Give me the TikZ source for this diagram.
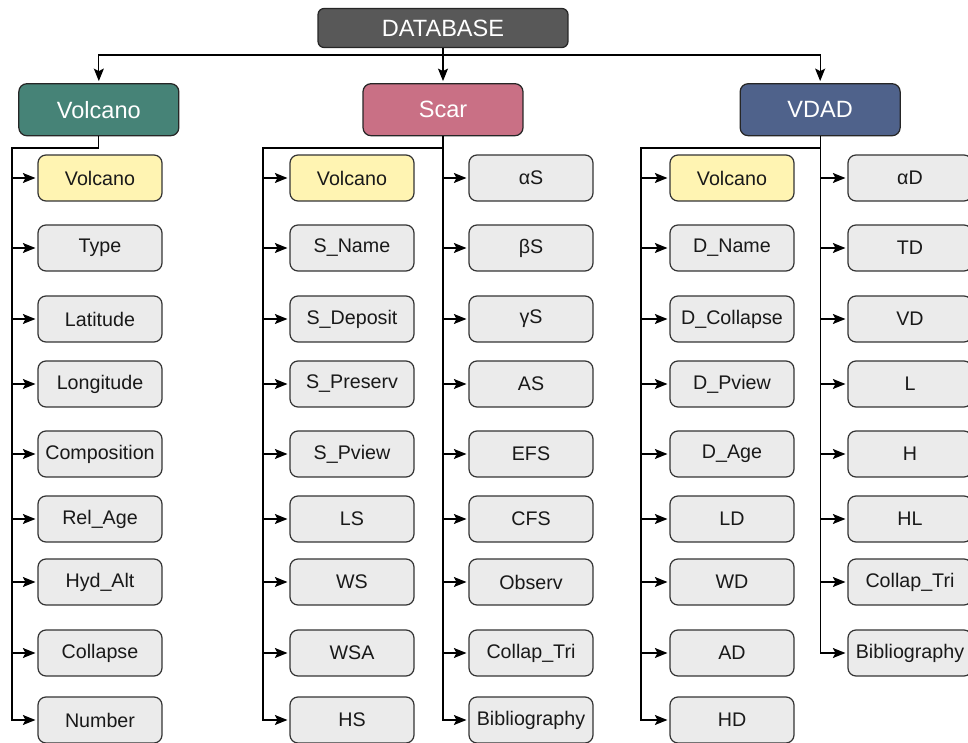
\documentclass[tikz,border=0pt]{standalone}
\usepackage{fontspec}
\setmainfont{Liberation Sans}
\usepackage{tikz}
\usetikzlibrary{arrows.meta, positioning, shapes}
\definecolor{dbgray}{RGB}{88,88,88}
\definecolor{volcteal}{RGB}{70,131,119}
\definecolor{scarpink}{RGB}{201,112,133}
\definecolor{vdadblue}{RGB}{79,98,139}
\definecolor{keyyellow}{RGB}{255,244,178}
\definecolor{fieldgray}{RGB}{235,235,235}
\tikzstyle{database} = [rectangle, rounded corners=0.12cm, minimum width=5cm, minimum height=0.78cm, text centered, draw=black!85, fill=dbgray, text=white, font=\fontsize{13.4}{15}\selectfont]
\tikzstyle{table} = [rectangle, rounded corners=0.16cm, minimum width=3.2cm, minimum height=1.04cm, text centered, draw=black!85, text=white, font=\fontsize{13.4}{15}\selectfont]
\tikzstyle{field} = [rectangle, rounded corners=0.16cm, minimum width=2.48cm, minimum height=0.92cm, text centered, draw=black!80, fill=fieldgray, text=black!90, font=\fontsize{11.2}{13}\selectfont]
\tikzstyle{keyfield} = [field, fill=keyyellow]
\tikzstyle{arrow} = [line width=0.7pt, ->, >={Stealth[length=0.25cm, width=0.2cm, inset=0.05cm]}, shorten >=0.04cm]

\begin{document}
\begin{tikzpicture}[x=0.02cm, y=-0.02cm, line width=0.7pt]
		\useasboundingbox (0,0) rectangle (968,743);
		
		% Nodes
		\node (db) [database] at (443,28) {DATABASE};
		\node (scar) [table, fill=scarpink, below=0.7cm of db] {Scar};
		\node (volcano) [table, fill=volcteal, left=3.66cm of scar] {Volcano};
		\node (vdad) [table, fill=vdadblue, right=4.32cm of scar] {VDAD};
		
		% Volcano fields
		\node (vc1) [keyfield] at (100,178) {Volcano};
		\node (vc2) [field] at (100,248) {Type};
		\node (vc3) [field] at (100,319) {Latitude};
		\node (vc4) [field] at (100,384) {Longitude};
		\node (vc5) [field] at (100,454) {Composition};
		\node (vc6) [field] at (100,519) {Rel\_Age};
		\node (vc7) [field] at (100,582) {Hyd\_Alt};
		\node (vc8) [field] at (100,653) {Collapse};
		\node (vc9) [field] at (100,720) {Number};
		
		% Scar fields
		\node (sl1) [keyfield] at (352,178) {Volcano};
		\node (sl2) [field] at (352,248) {S\_Name};
		\node (sl3) [field] at (352,319) {S\_Deposit};
		\node (sl4) [field] at (352,384) {S\_Preserv};
		\node (sl5) [field] at (352,454) {S\_Pview};
		\node (sl6) [field] at (352,519) {LS};
		\node (sl7) [field] at (352,582) {WS};
		\node (sl8) [field] at (352,653) {WSA};
		\node (sl9) [field] at (352,720) {HS};
		\node (sr1) [field] at (531,178) {αS};
		\node (sr2) [field] at (531,248) {βS};
		\node (sr3) [field] at (531,319) {γS};
		\node (sr4) [field] at (531,384) {AS};
		\node (sr5) [field] at (531,454) {EFS};
		\node (sr6) [field] at (531,519) {CFS};
		\node (sr7) [field] at (531,582) {Observ};
		\node (sr8) [field] at (531,653) {Collap\_Tri};
		\node (sr9) [field] at (531,720) {Bibliography};
		
		% VDAD fields
		\node (dl1) [keyfield] at (732,178) {Volcano};
		\node (dl2) [field] at (732,248) {D\_Name};
		\node (dl3) [field] at (732,319) {D\_Collapse};
		\node (dl4) [field] at (732,384) {D\_Pview};
		\node (dl5) [field] at (732,454) {D\_Age};
		\node (dl6) [field] at (732,519) {LD};
		\node (dl7) [field] at (732,582) {WD};
		\node (dl8) [field] at (732,653) {AD};
		\node (dl9) [field] at (732,720) {HD};
		\node (dr1) [field] at (910,178) {αD};
		\node (dr2) [field] at (910,248) {TD};
		\node (dr3) [field] at (910,319) {VD};
		\node (dr4) [field] at (910,384) {L};
		\node (dr5) [field] at (910,454) {H};
		\node (dr6) [field] at (910,519) {HL};
		\node (dr7) [field] at (910,582) {Collap\_Tri};
		\node (dr8) [field] at (910,653) {Bibliography};
		
		% Spine corners
		\coordinate (vcspine) at (12,148);
		\coordinate (slspine) at (263,148);
		\coordinate (dlspine) at (641,148);
		
		% Arrows
		\draw [arrow] (db.south) -- ++(0,7) -| (volcano.north);
		\draw [arrow] (db.south) -- (scar.north);
		\draw [arrow] (db.south) -- ++(0,7) -| (vdad.north);
		
		\draw [arrow] (volcano.south) |- (vcspine) |- (vc9);
		\draw [arrow] (vcspine |- vc1) -- (vc1);
		\draw [arrow] (vcspine |- vc2) -- (vc2);
		\draw [arrow] (vcspine |- vc3) -- (vc3);
		\draw [arrow] (vcspine |- vc4) -- (vc4);
		\draw [arrow] (vcspine |- vc5) -- (vc5);
		\draw [arrow] (vcspine |- vc6) -- (vc6);
		\draw [arrow] (vcspine |- vc7) -- (vc7);
		\draw [arrow] (vcspine |- vc8) -- (vc8);
		
		\draw [arrow] (scar.south) |- (slspine) |- (sl9);
		\draw [arrow] (slspine |- sl1) -- (sl1);
		\draw [arrow] (slspine |- sl2) -- (sl2);
		\draw [arrow] (slspine |- sl3) -- (sl3);
		\draw [arrow] (slspine |- sl4) -- (sl4);
		\draw [arrow] (slspine |- sl5) -- (sl5);
		\draw [arrow] (slspine |- sl6) -- (sl6);
		\draw [arrow] (slspine |- sl7) -- (sl7);
		\draw [arrow] (slspine |- sl8) -- (sl8);
		
		\draw [arrow] (scar.south) |- (sr9);
		\draw [arrow] (scar.south |- sr1) -- (sr1);
		\draw [arrow] (scar.south |- sr2) -- (sr2);
		\draw [arrow] (scar.south |- sr3) -- (sr3);
		\draw [arrow] (scar.south |- sr4) -- (sr4);
		\draw [arrow] (scar.south |- sr5) -- (sr5);
		\draw [arrow] (scar.south |- sr6) -- (sr6);
		\draw [arrow] (scar.south |- sr7) -- (sr7);
		\draw [arrow] (scar.south |- sr8) -- (sr8);
		
		\draw [arrow] (vdad.south) |- (dlspine) |- (dl9);
		\draw [arrow] (dlspine |- dl1) -- (dl1);
		\draw [arrow] (dlspine |- dl2) -- (dl2);
		\draw [arrow] (dlspine |- dl3) -- (dl3);
		\draw [arrow] (dlspine |- dl4) -- (dl4);
		\draw [arrow] (dlspine |- dl5) -- (dl5);
		\draw [arrow] (dlspine |- dl6) -- (dl6);
		\draw [arrow] (dlspine |- dl7) -- (dl7);
		\draw [arrow] (dlspine |- dl8) -- (dl8);
		
		\draw [arrow] (vdad.south) |- (dr8);
		\draw [arrow] (vdad.south |- dr1) -- (dr1);
		\draw [arrow] (vdad.south |- dr2) -- (dr2);
		\draw [arrow] (vdad.south |- dr3) -- (dr3);
		\draw [arrow] (vdad.south |- dr4) -- (dr4);
		\draw [arrow] (vdad.south |- dr5) -- (dr5);
		\draw [arrow] (vdad.south |- dr6) -- (dr6);
		\draw [arrow] (vdad.south |- dr7) -- (dr7);
		
	\end{tikzpicture}
\end{document}
